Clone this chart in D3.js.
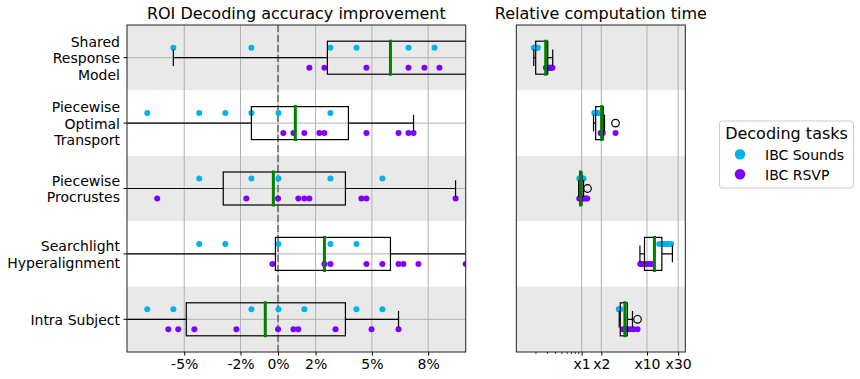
<!DOCTYPE html>
<html><head><meta charset="utf-8">
<script src="https://cdn.jsdelivr.net/npm/d3@7"></script>
<style>body{margin:0;background:#fff}svg{display:block}text{font-family:"DejaVu Sans",sans-serif;fill:#000}</style>
</head><body><svg id="chart" width="860" height="379"></svg>
<script>
// ---------- data ----------
const methods = ["Shared Response Model", "Piecewise Optimal Transport", "Piecewise Procrustes", "Searchlight Hyperalignment", "Intra Subject"];
const methodLines = [["Shared", "Response", "Model"], ["Piecewise", "Optimal", "Transport"], ["Piecewise", "Procrustes"], ["Searchlight", "Hyperalignment"], ["Intra Subject"]];
const seriesNames = ["IBC Sounds", "IBC RSVP"];

// accuracy improvement (%)
const soundsAcc = [
  [-5.58, -1.42, 2.79, 4.18, 6.95, 8.34],
  [-6.97, -4.20, -2.81, -1.42, 0.02, 2.79],
  [-4.20, -1.42, 0.02, 2.79, 5.56],
  [-4.20, -2.81, 0.02, 2.79, 4.18],
  [-6.97, -5.58, -1.42, 0.02, 1.40, 4.18, 5.56]
];
const rsvpAcc = [
  [1.67, 2.47, 4.71, 6.95, 7.80, 8.60],
  [0.28, 0.82, 1.40, 2.20, 2.47, 4.71, 6.42, 6.95, 7.22],
  [-6.44, -1.69, 0.0, 1.08, 1.40, 1.67, 4.44, 4.71, 9.46],
  [-0.30, 2.47, 2.79, 4.71, 5.56, 6.42, 6.68, 7.48, 10.0],
  [-5.85, -5.32, -4.46, -2.22, 0.0, 0.82, 1.08, 3.06, 4.98, 6.42]
];
const accWhiskerLow = [-5.58, -11.0, -11.0, -11.0, -11.0];
const accQ1 = [2.63, -1.42, -2.92, -0.14, -4.89];
const accMedian = [5.99, 0.92, -0.25, 2.47, -0.68];
const accQ3 = [11.5, 3.75, 3.59, 5.99, 3.59];
const accWhiskerHigh = [14.0, 7.22, 9.46, 14.0, 6.42];
const accTicks = [-5, -2, 0, 2, 5, 8];
const accTickLabels = ["-5%", "-2%", "0%", "2%", "5%", "8%"];

// relative computation time
const soundsTime = [
  [0.186, 0.19, 0.195, 0.2, 0.207, 0.214],
  [1.56, 1.6, 1.65, 1.7, 1.75, 1.8],
  [0.92, 0.96, 1.0, 1.04, 1.07],
  [15.4, 17.0, 18.5, 20.0, 21.5, 23.4],
  [3.7, 3.8, 3.9]
];
const rsvpTime = [
  [0.284, 0.295, 0.31, 0.32, 0.335, 0.345, 0.357],
  [1.95, 2.0, 2.05, 2.1, 3.3],
  [0.92, 0.97, 1.02, 1.08, 1.15, 1.22],
  [7.9, 8.5, 9.3, 10.0, 11.0, 12.0],
  [4.3, 4.6, 5.0, 5.55, 6.2, 7.16]
];
const timeWhiskerLow = [0.185, 1.52, 0.9, 7.8, 3.76];
const timeQ1 = [0.198, 1.64, 0.93, 9.16, 3.9];
const timeMedian = [0.282, 2.02, 0.965, 13.0, 4.6];
const timeQ3 = [0.303, 2.14, 1.01, 16.9, 4.99];
const timeWhiskerHigh = [0.361, 2.24, 1.07, 24.5, 6.0];
const timeOutliers = [[], [3.3], [1.23], [], [7.16]];
const timeTicks = [1, 2, 10, 30];
const timeTickLabels = ["x1", "x2", "x10", "x30"];
const timeMinorTicks = [0.2, 0.3, 0.4, 0.5, 0.6, 0.7, 0.8, 0.9];

// ---------- style ----------
const colors = ["#00b4eb", "#8000ff"];
const bandFill = "#e9e9e9";
const gridColor = "#b0b0b0";

const svg = d3.select("#chart");
const plotTop = 25, plotBottom = 352;
const y = d3.scaleBand().domain(methods).range([plotTop, plotBottom]).padding(0);
const yc = m => y(m) + y.bandwidth() / 2;

const xAcc = d3.scaleLinear().domain([-8.05, 10.0]).range([127, 465.7]);
const xTime = d3.scaleLog().domain([0.1, 38.6]).range([516.3, 685.3]);

function panel(id, x, opts) {
  const [x0, x1] = x.range();
  const g = svg.append("g");
  svg.append("clipPath").attr("id", id).append("rect")
    .attr("x", x0).attr("y", plotTop).attr("width", x1 - x0).attr("height", plotBottom - plotTop);
  const inner = g.append("g").attr("clip-path", `url(#${id})`);
  inner.selectAll("rect.band").data(methods).join("rect")
    .attr("x", x0).attr("width", x1 - x0)
    .attr("y", d => y(d)).attr("height", y.bandwidth())
    .attr("fill", (d, i) => i % 2 === 0 ? bandFill : "#fff");
  inner.selectAll("line.vg").data(opts.ticks).join("line")
    .attr("x1", d => x(d)).attr("x2", d => x(d)).attr("y1", plotTop).attr("y2", plotBottom)
    .attr("stroke", gridColor).attr("stroke-width", 1);
  if (opts.hgrid) {
    inner.selectAll("line.hg").data(methods).join("line")
      .attr("x1", x0).attr("x2", x1).attr("y1", d => yc(d)).attr("y2", d => yc(d))
      .attr("stroke", gridColor).attr("stroke-width", 1);
  }
  if (opts.zero) {
    inner.append("line").attr("x1", x(0)).attr("x2", x(0)).attr("y1", plotTop).attr("y2", plotBottom)
      .attr("stroke", "#808080").attr("stroke-width", 2).attr("stroke-dasharray", "7,3");
  }
  [opts.s1, opts.s2].forEach((series, si) => {
    methods.forEach((m, mi) => {
      inner.selectAll(null).data(series[mi]).join("circle")
        .attr("cx", d => x(d)).attr("cy", yc(m) + (si === 0 ? -10 : 10)).attr("r", 3)
        .attr("fill", colors[si]);
    });
  });
  methods.forEach((m, i) => {
    const c = yc(m), hb = 16.5, hc = 8.3;
    const bx = inner.append("g").attr("stroke", "#000").attr("stroke-width", 1.2).attr("fill", "none");
    bx.append("line").attr("x1", x(opts.wl[i])).attr("x2", x(opts.q1[i])).attr("y1", c).attr("y2", c);
    bx.append("line").attr("x1", x(opts.q3[i])).attr("x2", x(opts.wh[i])).attr("y1", c).attr("y2", c);
    bx.append("line").attr("x1", x(opts.wl[i])).attr("x2", x(opts.wl[i])).attr("y1", c - hc).attr("y2", c + hc);
    bx.append("line").attr("x1", x(opts.wh[i])).attr("x2", x(opts.wh[i])).attr("y1", c - hc).attr("y2", c + hc);
    bx.append("rect").attr("x", x(opts.q1[i])).attr("width", x(opts.q3[i]) - x(opts.q1[i]))
      .attr("y", c - hb).attr("height", 2 * hb);
    if (opts.out) {
      bx.selectAll(null).data(opts.out[i]).join("circle")
        .attr("cx", d => x(d)).attr("cy", c).attr("r", 3.8);
    }
    inner.append("line").attr("x1", x(opts.med[i])).attr("x2", x(opts.med[i]))
      .attr("y1", c - 18).attr("y2", c + 18).attr("stroke", "#008000").attr("stroke-width", 3);
  });
  const ax = d3.axisBottom(x).tickValues(opts.ticks).tickFormat((d, i) => opts.labels[i]).tickSize(3.5).tickPadding(4);
  const axg = g.append("g").attr("transform", `translate(0,${plotBottom})`).call(ax);
  axg.select(".domain").remove();
  axg.selectAll("text").attr("font-size", 14).attr("font-family", "DejaVu Sans");
  axg.selectAll("line").attr("stroke", "#000");
  if (opts.minor) {
    g.selectAll(null).data(opts.minor).join("line")
      .attr("x1", d => x(d)).attr("x2", d => x(d)).attr("y1", plotBottom).attr("y2", plotBottom + 2)
      .attr("stroke", "#000").attr("stroke-width", 0.8);
  }
  g.append("rect").attr("x", x0).attr("y", plotTop).attr("width", x1 - x0).attr("height", plotBottom - plotTop)
    .attr("fill", "none").attr("stroke", "#222").attr("stroke-width", 1);
  g.append("text").attr("x", (x0 + x1) / 2).attr("y", 19).attr("text-anchor", "middle")
    .attr("font-size", 16).text(opts.title);
  return g;
}

panel("clipL", xAcc, {
  ticks: accTicks, labels: accTickLabels, hgrid: true, zero: true,
  s1: soundsAcc, s2: rsvpAcc, wl: accWhiskerLow, q1: accQ1, med: accMedian, q3: accQ3, wh: accWhiskerHigh,
  title: "ROI Decoding accuracy improvement"
});
panel("clipR", xTime, {
  ticks: timeTicks, labels: timeTickLabels, hgrid: false, zero: false, minor: timeMinorTicks,
  s1: soundsTime, s2: rsvpTime, wl: timeWhiskerLow, q1: timeQ1, med: timeMedian, q3: timeQ3, wh: timeWhiskerHigh,
  out: timeOutliers, title: "Relative computation time"
});

methods.forEach((m, i) => {
  const c = yc(m);
  svg.append("line").attr("x1", 123.5).attr("x2", 127).attr("y1", c).attr("y2", c).attr("stroke", "#000");
  const lines = methodLines[i], lh = 16.5;
  const t = svg.append("text").attr("text-anchor", "end").attr("font-size", 14);
  lines.forEach((ln, k) => {
    t.append("tspan").attr("x", 120).attr("y", c + (k - (lines.length - 1) / 2) * lh + 5.5).text(ln);
  });
});

const lg = svg.append("g");
lg.append("rect").attr("x", 719.5).attr("y", 121).attr("width", 134).attr("height", 67).attr("rx", 3)
  .attr("fill", "#fff").attr("stroke", "#cccccc");
lg.append("text").attr("x", 786.5).attr("y", 139).attr("text-anchor", "middle").attr("font-size", 16).text("Decoding tasks");
seriesNames.forEach((s, i) => {
  lg.append("circle").attr("cx", 740).attr("cy", 154.3 + i * 20).attr("r", 5.3).attr("fill", colors[i]);
  lg.append("text").attr("x", 765).attr("y", 159.5 + i * 20).attr("font-size", 14).text(s);
});
</script>
</body></html>
